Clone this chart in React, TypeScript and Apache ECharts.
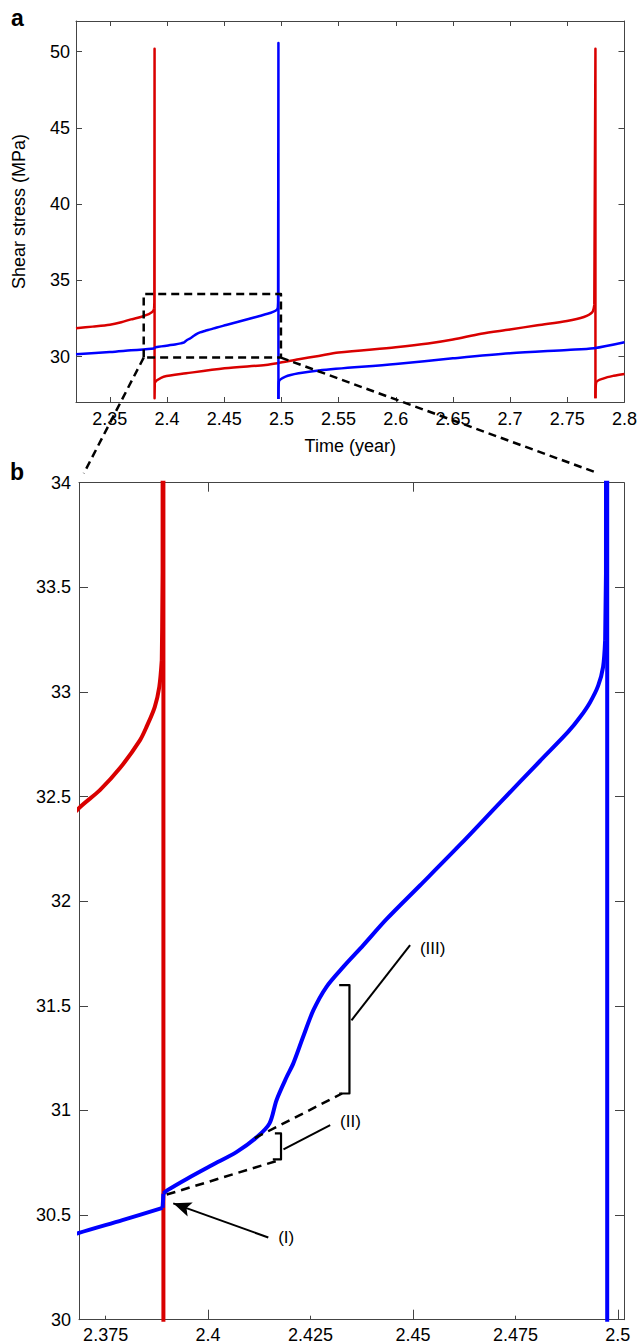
import React, { useEffect, useRef } from "react";
import * as echarts from "echarts";

// ---------- axes / ticks ----------
const overviewXTicks = [2.35, 2.4, 2.45, 2.5, 2.55, 2.6, 2.65, 2.7, 2.75, 2.8];
const overviewYTicks = [30, 35, 40, 45, 50];
const zoomXLabels = [2.375, 2.4, 2.425, 2.45, 2.475, 2.5];
const zoomXMajorTicks = [2.4, 2.45, 2.5];
const zoomXTopTicks = [2.4, 2.45];
const zoomXMinorTicks = [2.375, 2.425, 2.475];
const overviewXRange = [2.3204, 2.8];
const overviewYRange = [27.03, 52];
const zoomXRange = [2.3685, 2.5015];
const zoomYRange = [30, 34];

// ---------- red fault (shear stress, MPa) ----------
const redTime = [
  2.3204, 2.335, 2.35, 2.36, 2.3685, 2.3736, 2.3785, 2.3834, 2.385, 2.387, 2.3881, 2.3887, 2.3888, 2.3889,
  2.3891, 2.3891, 2.3893, 2.3915, 2.397, 2.4167, 2.4503, 2.4863, 2.4964, 2.5152, 2.5326, 2.55, 2.6, 2.6283,
  2.65, 2.6746, 2.6998, 2.7239, 2.7497, 2.7645, 2.7717, 2.7736, 2.7746, 2.7746, 2.7752, 2.7819, 2.7906, 2.8,
];
const redStress = [
  31.86, 31.97, 32.1, 32.26, 32.445, 32.531, 32.636, 32.77, 32.834, 32.929, 33.025, 33.152, 33.312, 33.568,
  50.18, 27.27, 28.3, 28.47, 28.69, 28.91, 29.24, 29.46, 29.57, 29.83, 30.05, 30.27, 30.62, 30.86,
  31.12, 31.5, 31.78, 32.06, 32.34, 32.6, 32.9, 33.4, 50.18, 27.27, 28.3, 28.58, 28.75, 28.87,
];

// ---------- blue fault (shear stress, MPa) ----------
const blueTime = [
  2.3204, 2.35, 2.3685, 2.3791, 2.3889, 2.3891, 2.3901, 2.395, 2.401, 2.407, 2.412, 2.415, 2.4167, 2.4192,
  2.4208, 2.4232, 2.4257, 2.4289, 2.433, 2.4379, 2.4436, 2.4517, 2.4615, 2.4712, 2.481, 2.4879, 2.4908,
  2.4932, 2.4952, 2.4964, 2.4969, 2.4971, 2.4974, 2.4974, 2.4978, 2.5036, 2.5152, 2.5326, 2.6, 2.65, 2.7,
  2.75, 2.7732, 2.8,
];
const blueStress = [
  30.16, 30.3, 30.415, 30.476, 30.534, 30.603, 30.619, 30.675, 30.739, 30.802, 30.874, 30.938, 31.049, 31.161,
  31.225, 31.352, 31.479, 31.591, 31.686, 31.79, 31.915, 32.075, 32.27, 32.47, 32.67, 32.81, 32.88,
  32.95, 33.03, 33.12, 33.248, 33.567, 50.55, 27.23, 28.36, 28.69, 28.91, 29.1, 29.52, 29.89, 30.22,
  30.44, 30.55, 30.94,
];

// ---------- zoom box in panel a ----------
const zoomBoxTime = [2.3796, 2.4996];
const zoomBoxStress = [29.94, 34.1];

// ---------- annotations in panel b (data coordinates) ----------
const trendLowTime = [2.3899, 2.4175];
const trendLowStress = [30.598, 30.763];
const trendHighTime = [2.4114, 2.4327];
const trendHighStress = [30.868, 31.081];
const bracketIITime = [2.4163, 2.4178, 2.4178, 2.4158];
const bracketIIStress = [30.89, 30.89, 30.766, 30.766];
const bracketIIITime = [2.432, 2.4345, 2.4345, 2.432];
const bracketIIIStress = [31.599, 31.599, 31.081, 31.081];
const leaderIITime = [2.4184, 2.4298];
const leaderIIStress = [30.814, 30.93];
const leaderIIITime = [2.435, 2.4493];
const leaderIIIStress = [31.431, 31.79];
const arrowITime = [2.4147, 2.3915]; // tail -> tip
const arrowIStress = [30.393, 30.556];
const labelTexts = ["(I)", "(II)", "(III)"];
const labelTime = [2.4171, 2.4322, 2.4517];
const labelStress = [30.392, 30.949, 31.775];

const FONT = "'Liberation Sans', Arial, Helvetica, sans-serif";
const AXIS_COLOR = "#444";
const RED = "#d90000";
const BLUE = "#0000ff";

const pairs = (xs: number[], ys: number[]) => xs.map((x, i) => [x, ys[i]]);

// split a stress history into slow (smooth) parts and abrupt, near-vertical jumps (straight)
function splitHistory(xs: number[], ys: number[]) {
  const pts = pairs(xs, ys);
  const isJump = (a: number[], b: number[]) =>
    Math.abs(b[1] - a[1]) > 3 || (Math.abs(b[0] - a[0]) < 0.00025 && Math.abs(b[1] - a[1]) > 0.05);
  const slow: number[][][] = [];
  const jumps: number[][][] = [];
  let cur: number[][] = [pts[0]];
  let i = 1;
  while (i < pts.length) {
    if (isJump(pts[i - 1], pts[i])) {
      if (cur.length > 1) slow.push(cur);
      const j = [pts[i - 1]];
      while (i < pts.length && isJump(pts[i - 1], pts[i])) {
        j.push(pts[i]);
        i++;
      }
      jumps.push(j);
      cur = [pts[i - 1]];
    } else {
      cur.push(pts[i]);
      i++;
    }
  }
  if (cur.length > 1) slow.push(cur);
  return { slow, jumps };
}

export default function App() {
  const ref = useRef<HTMLDivElement>(null);

  useEffect(() => {
    if (!ref.current) return;
    const chart = echarts.init(ref.current, null, { renderer: "svg" });

    const axisLine = { show: true, onZero: false, lineStyle: { color: AXIS_COLOR, width: 1 } };
    const labelStyle = { color: "#000", fontSize: 18, fontFamily: FONT };
    const tick = (values: number[], length: number) => ({
      show: true,
      inside: true,
      length,
      customValues: values,
      lineStyle: { color: AXIS_COLOR, width: 1 },
    });

    const xAxis: any[] = [
      {
        gridIndex: 0, type: "value", position: "bottom",
        min: overviewXRange[0], max: overviewXRange[1],
        axisLine, axisTick: tick(overviewXTicks, 5),
        axisLabel: { ...labelStyle, customValues: overviewXTicks, margin: 8 },
        splitLine: { show: false },
        name: "Time (year)", nameLocation: "middle", nameGap: 35,
        nameTextStyle: { ...labelStyle },
      },
      {
        gridIndex: 0, type: "value", position: "top",
        min: overviewXRange[0], max: overviewXRange[1],
        axisLine, axisTick: tick(overviewXTicks, 5),
        axisLabel: { show: false }, splitLine: { show: false },
      },
      {
        gridIndex: 1, type: "value", position: "bottom",
        min: zoomXRange[0], max: zoomXRange[1],
        axisLine, axisTick: tick(zoomXMajorTicks, 10),
        axisLabel: { ...labelStyle, customValues: zoomXLabels, margin: 6 },
        splitLine: { show: false },
      },
      {
        gridIndex: 1, type: "value", position: "top",
        min: zoomXRange[0], max: zoomXRange[1],
        axisLine, axisTick: tick(zoomXTopTicks, 9),
        axisLabel: { show: false }, splitLine: { show: false },
      },
      {
        gridIndex: 1, type: "value", position: "bottom",
        min: zoomXRange[0], max: zoomXRange[1],
        axisLine: { show: false, onZero: false }, axisTick: tick(zoomXMinorTicks, 4),
        axisLabel: { show: false }, splitLine: { show: false },
      },
    ];

    const yAxis: any[] = [
      {
        gridIndex: 0, type: "value", position: "left",
        min: overviewYRange[0], max: overviewYRange[1],
        axisLine, axisTick: tick(overviewYTicks, 6),
        axisLabel: { ...labelStyle, customValues: overviewYTicks, margin: 6 },
        splitLine: { show: false },
        name: "Shear stress (MPa)", nameLocation: "middle", nameGap: 48,
        nameTextStyle: { ...labelStyle },
      },
      {
        gridIndex: 0, type: "value", position: "right",
        min: overviewYRange[0], max: overviewYRange[1],
        axisLine, axisTick: tick(overviewYTicks, 6),
        axisLabel: { show: false }, splitLine: { show: false },
      },
      {
        gridIndex: 1, type: "value", position: "left",
        min: zoomYRange[0], max: zoomYRange[1], interval: 0.5,
        axisLine, axisTick: { show: true, inside: true, length: 9, lineStyle: { color: AXIS_COLOR } },
        axisLabel: { ...labelStyle, margin: 8 },
        splitLine: { show: false },
      },
      {
        gridIndex: 1, type: "value", position: "right",
        min: zoomYRange[0], max: zoomYRange[1], interval: 0.5,
        axisLine, axisTick: { show: true, inside: true, length: 9, lineStyle: { color: AXIS_COLOR } },
        axisLabel: { show: false }, splitLine: { show: false },
      },
    ];

    const line = (
      data: number[][], xi: number, yi: number, color: string, width: number,
      dash?: number[], smooth: number | boolean = false, z = 2,
    ) => ({
      type: "line",
      xAxisIndex: xi,
      yAxisIndex: yi,
      data,
      z,
      showSymbol: false,
      symbol: "none",
      silent: true,
      smooth,
      lineStyle: { color, width, type: dash ? dash : "solid", cap: "butt", join: "round" },
    });

    const history = (xs: number[], ys: number[], xi: number, yi: number, color: string, width: number, z: number) => {
      const { slow, jumps } = splitHistory(xs, ys);
      return [
        ...slow.map((seg) => line(seg, xi, yi, color, width, undefined, 0.3, z)),
        ...jumps.map((seg) => line(seg, xi, yi, color, width, undefined, false, z)),
      ];
    };

    const boxData = [
      [zoomBoxTime[0], zoomBoxStress[0]],
      [zoomBoxTime[0], zoomBoxStress[1]],
      [zoomBoxTime[1], zoomBoxStress[1]],
      [zoomBoxTime[1], zoomBoxStress[0]],
      [zoomBoxTime[0], zoomBoxStress[0]],
    ];

    chart.setOption({
      animation: false,
      backgroundColor: "#fff",
      grid: [
        { left: 76, top: 21, width: 551, height: 381, containLabel: false },
        { left: 79, top: 482.7, width: 545, height: 837, containLabel: false },
      ],
      xAxis,
      yAxis,
      series: [
        ...history(redTime, redStress, 0, 0, RED, 2.5, 2),
        ...history(blueTime, blueStress, 0, 0, BLUE, 2.5, 3),
        line(boxData, 0, 0, "#000", 2.5, [8, 5], false, 4),
        ...history(redTime, redStress, 2, 2, RED, 4, 2),
        ...history(blueTime, blueStress, 2, 2, BLUE, 4, 3),
        line(pairs(trendLowTime, trendLowStress), 2, 2, "#000", 2.5, [9, 6], false, 4),
        line(pairs(trendHighTime, trendHighStress), 2, 2, "#000", 2.5, [9, 6], false, 4),
        line(pairs(bracketIITime, bracketIIStress), 2, 2, "#000", 2.2, undefined, false, 4),
        line(pairs(bracketIIITime, bracketIIIStress), 2, 2, "#000", 2.2, undefined, false, 4),
        line(pairs(leaderIITime, leaderIIStress), 2, 2, "#000", 2, undefined, false, 4),
        line(pairs(leaderIIITime, leaderIIIStress), 2, 2, "#000", 2, undefined, false, 4),
        line(pairs(arrowITime, arrowIStress), 2, 2, "#000", 2, undefined, false, 4),
      ],
    });

    // ---- overlays computed from the axes ----
    const pa = (p: number[]) => chart.convertToPixel({ xAxisIndex: 0, yAxisIndex: 0 }, p) as number[];
    const pb = (p: number[]) => chart.convertToPixel({ xAxisIndex: 2, yAxisIndex: 2 }, p) as number[];

    const frac = 0.925;
    const lStart = pa([zoomBoxTime[0], zoomBoxStress[0]]);
    const lTarget = pb([zoomXRange[0], zoomYRange[1]]);
    const rStart = pa([zoomBoxTime[1], zoomBoxStress[0]]);
    const rTarget = pb([zoomXRange[1], zoomYRange[1]]);
    const lerp = (a: number[], b: number[], t: number) => [a[0] + (b[0] - a[0]) * t, a[1] + (b[1] - a[1]) * t];
    const lEnd = lerp(lStart, lTarget, frac);
    const rEnd = lerp(rStart, rTarget, frac);

    const tip = pb([arrowITime[1], arrowIStress[1]]);
    const tail = pb([arrowITime[0], arrowIStress[0]]);
    const dx = tip[0] - tail[0];
    const dy = tip[1] - tail[1];
    const len = Math.hypot(dx, dy);
    const ux = dx / len, uy = dy / len;
    const nx = -uy, ny = ux;
    const headLen = 18, headHalf = 7.5;
    const back = [tip[0] - ux * headLen, tip[1] - uy * headLen];
    const notch = [tip[0] - ux * headLen * 0.78, tip[1] - uy * headLen * 0.78];
    const arrowHead = [
      tip,
      [back[0] + nx * headHalf, back[1] + ny * headHalf],
      notch,
      [back[0] - nx * headHalf, back[1] - ny * headHalf],
    ];

    const labelEls = labelTexts.map((t, i) => {
      const p = pb([labelTime[i], labelStress[i]]);
      return {
        type: "text",
        x: p[0],
        y: p[1],
        z: 20,
        style: { text: t, fill: "#000", font: `17px ${FONT}`, textAlign: "left", textVerticalAlign: "middle" },
      };
    });

    chart.setOption({
      graphic: [
        {
          type: "line", z: 10,
          shape: { x1: lStart[0], y1: lStart[1], x2: lEnd[0], y2: lEnd[1] },
          style: { stroke: "#000", lineWidth: 2.5, lineDash: [8, 5] },
        },
        {
          type: "line", z: 10,
          shape: { x1: rStart[0], y1: rStart[1], x2: rEnd[0], y2: rEnd[1] },
          style: { stroke: "#000", lineWidth: 2.5, lineDash: [8, 5] },
        },
        { type: "polygon", z: 20, shape: { points: arrowHead }, style: { fill: "#000" } },
        ...labelEls,
        {
          type: "text", x: 11, y: 6, z: 20,
          style: { text: "a", fill: "#000", font: `bold 23px ${FONT}` },
        },
        {
          type: "text", x: 10, y: 460, z: 20,
          style: { text: "b", fill: "#000", font: `bold 23px ${FONT}` },
        },
      ],
    });

    return () => chart.dispose();
  }, []);

  return (
    <div
      ref={ref}
      style={{ position: "absolute", left: 0, top: 0, width: 640, height: 1344, background: "#fff" }}
    />
  );
}
